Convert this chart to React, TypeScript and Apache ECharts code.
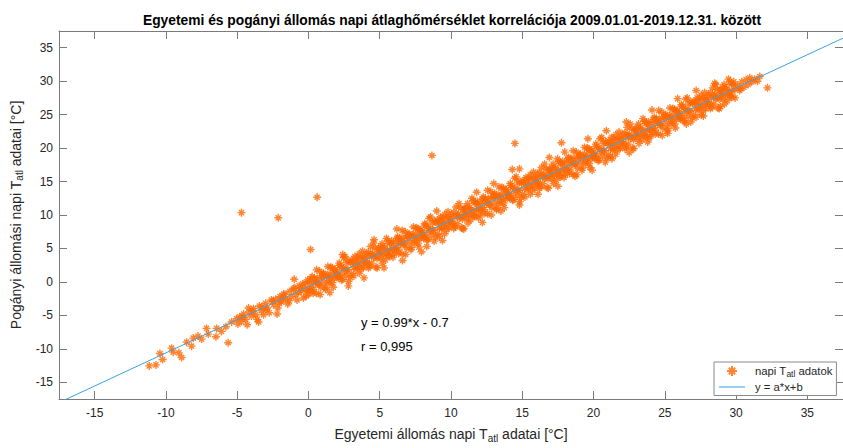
import React, { useEffect, useRef } from "react";
import * as echarts from "echarts";

const titleText = "Egyetemi és pogányi állomás napi átlaghőmérséklet korrelációja 2009.01.01-2019.12.31. között";
const xAxisMin = -17.5;
const xAxisMax = 37.5;
const yAxisMin = -17.5;
const yAxisMax = 37.5;
const fitX = [-17.5, 37.5];
const fitY = [-18.03, 36.43];
const fitText = "y = 0.99*x - 0.7";
const corrText = "r = 0,995";

// cold tail
const tailPoints: number[][] = [
  [-11.17, -12.55], [-10.7, -12.4], [-10.42, -10.7], [-10.23, -11.6], [-9.6, -9.9], [-9.49, -10.5],
  [-9.09, -10.6], [-8.9, -11.3], [-8.55, -9.0], [-8.2, -9.6], [-8.08, -8.4], [-7.75, -8.1], [-7.5, -8.55],
  [-7.15, -6.95], [-7.03, -7.8], [-6.49, -8.2], [-6.44, -6.95], [-6.1, -7.4], [-5.79, -6.7], [-5.63, -9.1],
  [-5.39, -6.0], [-5.04, -5.5],
];

// -5 .. 0
const lowPoints: number[][] = [
  [-4.95, -6.3], [-4.82, -5.2], [-4.7, -5.9], [-4.6, -5.3], [-4.55, -4.8], [-4.4, -5.6], [-4.3, -6.4], [-4.2, -3.9],
  [-4.15, -4.5], [-4.0, -5.1], [-3.9, -4.4], [-3.85, -4.0], [-3.7, -4.9], [-3.6, -5.6], [-3.5, -6.0], [-3.45, -3.6],
  [-3.3, -4.3], [-3.25, -3.7], [-3.15, -4.9], [-3.0, -3.2], [-2.95, -4.1], [-2.9, -3.9], [-2.75, -4.6], [-2.6, -2.7],
  [-2.5, -2.9], [-2.45, -3.4], [-2.3, -2.6], [-2.2, -4.8], [-2.15, -3.9], [-2.05, -3.2], [-2.0, -2.2], [-1.9, -3.0],
  [-1.85, -2.4], [-1.75, -1.8], [-1.65, -1.9], [-1.6, -2.6], [-1.45, -3.3], [-1.35, -2.8], [-1.3, -1.4], [-1.2, -2.2],
  [-1.05, -1.0], [-1.0, 0.4], [-0.95, -0.9], [-0.9, -1.9], [-0.8, -2.7], [-0.7, -1.6], [-0.65, -0.6], [-0.55, -0.9],
  [-0.5, -1.4], [-0.4, -0.3], [-0.35, -2.4], [-0.25, -1.0], [-0.2, -0.2], [-0.15, -2.1], [-0.1, -1.3], [-0.05, 0.3],
];

// dense band 0 .. 30, first pass
const corePoints: number[][] = [
  [0.03, -1.8], [0.11, -0.1], [0.18, -0.8], [0.26, 0.8], [0.33, -1.1], [0.41, 0.6], [0.49, -0.2], [0.56, -1.7], [0.64, 0.5], [0.72, -0.4], [0.79, 1.6], [0.87, -0.8], [0.95, 0.6],
  [1.05, 1.2], [1.12, -0.1], [1.2, -0.9], [1.27, 0.8], [1.36, 2.3], [1.44, -0.2], [1.51, 1.2], [1.58, 0.7], [1.67, 2.1], [1.74, -0.8], [1.81, 0.5], [1.89, 1.9], [1.97, 1.2],
  [2.02, 1.4], [2.09, 0.6], [2.16, 2.8], [2.24, 1.1], [2.31, 2.2], [2.39, 0.4], [2.47, 3.6], [2.54, 1.7], [2.62, 1.0], [2.69, 2.9], [2.77, 1.8], [2.84, 3.1], [2.93, 0.7],
  [3.03, 1.2], [3.11, 2.9], [3.18, 2.2], [3.26, 3.8], [3.33, 1.9], [3.41, 3.6], [3.49, 2.8], [3.56, 1.3], [3.64, 3.5], [3.72, 2.6], [3.79, 4.6], [3.87, 2.2], [3.95, 3.6],
  [4.05, 4.2], [4.12, 2.9], [4.2, 2.1], [4.27, 3.8], [4.36, 5.3], [4.44, 2.8], [4.51, 4.2], [4.58, 3.7], [4.67, 5.1], [4.74, 2.2], [4.81, 3.5], [4.89, 4.9], [4.97, 4.2],
  [5.02, 4.4], [5.09, 3.5], [5.16, 5.7], [5.24, 4.1], [5.31, 5.2], [5.39, 3.3], [5.47, 6.5], [5.54, 4.7], [5.62, 4.0], [5.69, 5.8], [5.77, 4.7], [5.84, 6.1], [5.93, 3.7],
  [6.03, 4.2], [6.11, 5.9], [6.18, 5.1], [6.26, 6.7], [6.33, 4.9], [6.41, 6.6], [6.49, 5.7], [6.56, 4.2], [6.64, 6.5], [6.72, 5.6], [6.79, 7.5], [6.87, 5.1], [6.95, 6.5],
  [7.05, 7.1], [7.12, 5.9], [7.2, 5.1], [7.27, 6.7], [7.36, 8.2], [7.44, 5.8], [7.51, 7.2], [7.58, 6.6], [7.67, 8.0], [7.74, 5.2], [7.81, 6.5], [7.89, 7.8], [7.97, 7.1],
  [8.02, 7.4], [8.09, 6.5], [8.16, 8.7], [8.24, 7.1], [8.31, 8.2], [8.39, 6.3], [8.47, 9.5], [8.54, 7.7], [8.62, 7.0], [8.69, 8.8], [8.77, 7.7], [8.84, 9.1], [8.93, 6.7],
  [9.03, 7.2], [9.11, 8.9], [9.18, 8.1], [9.26, 9.7], [9.33, 7.9], [9.41, 9.6], [9.49, 8.7], [9.56, 7.2], [9.64, 9.5], [9.72, 8.6], [9.79, 10.5], [9.87, 8.1], [9.95, 9.5],
  [10.05, 10.1], [10.12, 8.8], [10.2, 8.0], [10.27, 9.7], [10.36, 11.2], [10.44, 8.7], [10.51, 10.1], [10.58, 9.6], [10.67, 11.0], [10.74, 8.1], [10.81, 9.4], [10.89, 10.8], [10.97, 10.1],
  [11.02, 10.3], [11.09, 9.5], [11.16, 11.7], [11.24, 10.0], [11.31, 11.1], [11.39, 9.3], [11.47, 12.5], [11.54, 10.6], [11.62, 9.9], [11.69, 11.8], [11.77, 10.7], [11.84, 12.0], [11.93, 9.6],
  [12.03, 10.1], [12.11, 11.8], [12.18, 11.1], [12.26, 12.7], [12.33, 10.8], [12.41, 12.5], [12.49, 11.7], [12.56, 10.2], [12.64, 12.4], [12.72, 11.5], [12.79, 13.5], [12.87, 11.1], [12.95, 12.5],
  [13.05, 13.1], [13.12, 11.8], [13.2, 11.0], [13.27, 12.7], [13.36, 14.2], [13.44, 11.7], [13.51, 13.1], [13.58, 12.6], [13.67, 14.0], [13.74, 11.1], [13.81, 12.4], [13.89, 13.8], [13.97, 13.1],
  [14.02, 13.3], [14.09, 12.5], [14.16, 14.7], [14.24, 13.0], [14.31, 14.1], [14.39, 12.3], [14.47, 15.5], [14.54, 13.6], [14.62, 12.9], [14.69, 14.8], [14.77, 13.7], [14.84, 15.0], [14.93, 12.6],
  [15.03, 13.1], [15.11, 14.8], [15.18, 14.0], [15.26, 15.6], [15.33, 13.8], [15.41, 15.5], [15.49, 14.6], [15.56, 13.1], [15.64, 15.4], [15.72, 14.5], [15.79, 16.4], [15.87, 14.0], [15.95, 15.4],
  [16.05, 16.0], [16.12, 14.8], [16.2, 14.0], [16.27, 15.6], [16.36, 17.1], [16.44, 14.7], [16.51, 16.1], [16.58, 15.5], [16.67, 16.9], [16.74, 14.1], [16.81, 15.4], [16.89, 16.7], [16.97, 16.0],
  [17.02, 16.3], [17.09, 15.4], [17.16, 17.6], [17.24, 16.0], [17.31, 17.1], [17.39, 15.2], [17.47, 18.4], [17.54, 16.6], [17.62, 15.9], [17.69, 17.7], [17.77, 16.6], [17.84, 18.0], [17.93, 15.6],
  [18.03, 16.1], [18.11, 17.8], [18.18, 17.0], [18.26, 18.6], [18.33, 16.8], [18.41, 18.5], [18.49, 17.6], [18.56, 16.1], [18.64, 18.4], [18.72, 17.5], [18.79, 19.4], [18.87, 17.0], [18.95, 18.4],
  [19.05, 19.0], [19.12, 17.8], [19.2, 17.0], [19.27, 18.6], [19.36, 20.1], [19.44, 17.7], [19.51, 19.1], [19.58, 18.5], [19.67, 19.9], [19.74, 17.1], [19.81, 18.4], [19.89, 19.7], [19.97, 19.0],
  [20.02, 19.2], [20.09, 18.4], [20.16, 20.6], [20.24, 18.9], [20.31, 20.0], [20.39, 18.2], [20.47, 21.4], [20.54, 19.5], [20.62, 18.8], [20.69, 20.7], [20.77, 19.6], [20.84, 20.9], [20.93, 18.5],
  [21.03, 19.0], [21.11, 20.7], [21.18, 20.0], [21.26, 21.6], [21.33, 19.7], [21.41, 21.4], [21.49, 20.6], [21.56, 19.1], [21.64, 21.3], [21.72, 20.4], [21.79, 22.4], [21.87, 20.0], [21.95, 21.4],
  [22.05, 22.0], [22.12, 20.7], [22.2, 19.9], [22.27, 21.6], [22.36, 23.1], [22.44, 20.6], [22.51, 22.0], [22.58, 21.5], [22.67, 22.9], [22.74, 20.0], [22.81, 21.3], [22.89, 22.7], [22.97, 22.0],
  [23.02, 22.2], [23.09, 21.4], [23.16, 23.6], [23.24, 21.9], [23.31, 23.0], [23.39, 21.2], [23.47, 24.4], [23.54, 22.5], [23.62, 21.8], [23.69, 23.7], [23.77, 22.6], [23.84, 23.9], [23.93, 21.5],
  [24.03, 22.0], [24.11, 23.7], [24.18, 23.0], [24.26, 24.6], [24.33, 22.7], [24.41, 24.4], [24.49, 23.6], [24.56, 22.1], [24.64, 24.3], [24.72, 23.4], [24.79, 25.4], [24.87, 23.0], [24.95, 24.4],
  [25.05, 24.9], [25.12, 23.7], [25.2, 22.9], [25.27, 24.5], [25.36, 26.0], [25.44, 23.6], [25.51, 25.0], [25.58, 24.4], [25.67, 25.8], [25.74, 23.0], [25.81, 24.3], [25.89, 25.6], [25.97, 24.9],
  [26.02, 25.2], [26.09, 24.3], [26.16, 26.5], [26.24, 24.9], [26.31, 26.0], [26.39, 24.1], [26.47, 27.3], [26.54, 25.5], [26.62, 24.8], [26.69, 26.6], [26.77, 25.5], [26.84, 26.9], [26.93, 24.5],
  [27.03, 25.0], [27.11, 26.7], [27.18, 25.9], [27.26, 27.5], [27.33, 25.7], [27.41, 27.4], [27.49, 26.5], [27.56, 25.0], [27.64, 27.3], [27.72, 26.4], [27.79, 28.3], [27.87, 25.9], [27.95, 27.3],
  [28.05, 27.9], [28.12, 26.7], [28.2, 25.9], [28.27, 27.5], [28.36, 29.0], [28.44, 26.6], [28.51, 28.0], [28.58, 27.4], [28.67, 28.8], [28.74, 26.0], [28.81, 27.3], [28.89, 28.6], [28.97, 27.9],
  [29.02, 28.2], [29.09, 27.3], [29.16, 29.5], [29.24, 27.9], [29.31, 29.0], [29.39, 27.1], [29.47, 30.3], [29.54, 28.5], [29.62, 27.8], [29.69, 29.6], [29.77, 28.5], [29.84, 29.9], [29.93, 27.5],
];

// dense band 0 .. 30, second pass
const corePoints2: number[][] = [
  [0.07, -1.2], [0.2, 0.5], [0.32, -1.7], [0.45, 0.1], [0.57, 1.8], [0.7, -0.2], [0.82, -1.9], [0.94, 0.9],
  [1.06, 1.3], [1.19, -1.1], [1.31, 1.0], [1.44, 0.2], [1.56, 2.2], [1.69, -0.1], [1.81, 1.7], [1.94, 1.1],
  [2.07, 0.8], [2.2, 2.5], [2.32, 0.3], [2.45, 2.1], [2.57, 3.8], [2.7, 1.8], [2.82, 0.1], [2.94, 2.9],
  [3.06, 3.3], [3.19, 0.9], [3.31, 3.0], [3.44, 2.2], [3.56, 4.2], [3.69, 1.9], [3.81, 3.7], [3.94, 3.1],
  [4.07, 2.8], [4.2, 4.5], [4.32, 2.3], [4.45, 4.1], [4.57, 5.8], [4.7, 3.8], [4.82, 2.1], [4.94, 4.9],
  [5.06, 5.2], [5.19, 2.8], [5.31, 5.0], [5.44, 4.2], [5.56, 6.1], [5.69, 3.8], [5.81, 5.7], [5.94, 5.1],
  [6.07, 4.7], [6.2, 6.5], [6.32, 4.3], [6.45, 6.0], [6.57, 7.7], [6.7, 5.8], [6.82, 4.1], [6.94, 6.9],
  [7.06, 7.2], [7.19, 4.8], [7.31, 7.0], [7.44, 6.2], [7.56, 8.1], [7.69, 5.8], [7.81, 7.7], [7.94, 7.1],
  [8.07, 6.7], [8.2, 8.5], [8.32, 6.3], [8.45, 8.0], [8.57, 9.7], [8.7, 7.8], [8.82, 6.1], [8.94, 8.9],
  [9.06, 9.2], [9.19, 6.8], [9.31, 9.0], [9.44, 8.2], [9.56, 10.1], [9.69, 7.8], [9.81, 9.7], [9.94, 9.1],
  [10.07, 8.7], [10.2, 10.4], [10.32, 8.2], [10.45, 10.0], [10.57, 11.7], [10.7, 9.7], [10.82, 8.0], [10.94, 10.8],
  [11.06, 11.2], [11.19, 8.8], [11.31, 10.9], [11.44, 10.1], [11.56, 12.1], [11.69, 9.8], [11.81, 11.6], [11.94, 11.0],
  [12.07, 10.7], [12.2, 12.4], [12.32, 10.2], [12.45, 12.0], [12.57, 13.7], [12.7, 11.7], [12.82, 10.0], [12.94, 12.8],
  [13.06, 13.2], [13.19, 10.8], [13.31, 12.9], [13.44, 12.1], [13.56, 14.1], [13.69, 11.8], [13.81, 13.6], [13.94, 13.0],
  [14.07, 12.7], [14.2, 14.4], [14.32, 12.2], [14.45, 14.0], [14.57, 15.7], [14.7, 13.7], [14.82, 12.0], [14.94, 14.8],
  [15.06, 15.1], [15.19, 12.7], [15.31, 14.9], [15.44, 14.1], [15.56, 16.0], [15.69, 13.7], [15.81, 15.6], [15.94, 15.0],
  [16.07, 14.6], [16.2, 16.4], [16.32, 14.2], [16.45, 15.9], [16.57, 17.6], [16.7, 15.7], [16.82, 14.0], [16.94, 16.8],
  [17.06, 17.1], [17.19, 14.7], [17.31, 16.9], [17.44, 16.1], [17.56, 18.0], [17.69, 15.7], [17.81, 17.6], [17.94, 17.0],
  [18.07, 16.6], [18.2, 18.4], [18.32, 16.2], [18.45, 17.9], [18.57, 19.6], [18.7, 17.7], [18.82, 16.0], [18.94, 18.8],
  [19.06, 19.1], [19.19, 16.7], [19.31, 18.9], [19.44, 18.1], [19.56, 20.0], [19.69, 17.7], [19.81, 19.6], [19.94, 19.0],
  [20.07, 18.6], [20.2, 20.3], [20.32, 18.1], [20.45, 19.9], [20.57, 21.6], [20.7, 19.6], [20.82, 17.9], [20.94, 20.7],
  [21.06, 21.1], [21.19, 18.7], [21.31, 20.8], [21.44, 20.0], [21.56, 22.0], [21.69, 19.7], [21.81, 21.5], [21.94, 20.9],
  [22.07, 20.6], [22.2, 22.3], [22.32, 20.1], [22.45, 21.9], [22.57, 23.6], [22.7, 21.6], [22.82, 19.9], [22.94, 22.7],
  [23.06, 23.1], [23.19, 20.7], [23.31, 22.8], [23.44, 22.0], [23.56, 24.0], [23.69, 21.7], [23.81, 23.5], [23.94, 22.9],
  [24.07, 22.6], [24.2, 24.3], [24.32, 22.1], [24.45, 23.9], [24.57, 25.6], [24.7, 23.6], [24.82, 21.9], [24.94, 24.7],
  [25.06, 25.0], [25.19, 22.6], [25.31, 24.8], [25.44, 24.0], [25.56, 25.9], [25.69, 23.6], [25.81, 25.5], [25.94, 24.9],
  [26.07, 24.5], [26.2, 26.3], [26.32, 24.1], [26.45, 25.8], [26.57, 27.5], [26.7, 25.6], [26.82, 23.9], [26.94, 26.7],
  [27.06, 27.0], [27.19, 24.6], [27.31, 26.8], [27.44, 26.0], [27.56, 27.9], [27.69, 25.6], [27.81, 27.5], [27.94, 26.9],
  [28.07, 26.5], [28.2, 28.3], [28.32, 26.1], [28.45, 27.8], [28.57, 29.5], [28.7, 27.6], [28.82, 25.9], [28.94, 28.7],
  [29.06, 29.0], [29.19, 26.6], [29.31, 28.8], [29.44, 28.0], [29.56, 29.9], [29.69, 27.6], [29.81, 29.5], [29.94, 28.9],
];

// warm end 30 .. 32.5
const highPoints: number[][] = [
  [30.1, 29.4], [30.25, 28.6], [30.3, 28.9], [30.4, 29.9], [30.55, 29.1], [30.7, 30.2], [30.85, 29.5],
  [30.96, 30.5], [31.1, 29.9], [31.3, 30.3], [31.5, 30.0], [31.66, 30.7], [32.2, 29.0],
];

// wider scatter around the band
const spreadPoints: number[][] = [
  [1.5, -1.6], [2.8, -0.6], [3.9, 0.6], [5.3, 2.1], [6.6, 3.2], [7.93, 4.5], [8.3, 5.3], [9.4, 6.2],
  [10.9, 7.9], [12.2, 8.9], [13.5, 10.6], [14.8, 11.5], [16.1, 13.1], [17.5, 14.3], [18.7, 15.8],
  [19.9, 16.7], [21.3, 18.4], [22.5, 19.3], [23.8, 20.9], [25.2, 22.2], [26.5, 23.6], [27.7, 24.8],
  [28.9, 26.2], [2.4, 4.1], [4.6, 6.3], [6.2, 7.9], [9.0, 10.6], [11.8, 13.4], [13.0, 14.7], [14.3, 16.8],
  [14.8, 16.9], [16.9, 18.6], [17.98, 19.4], [19.6, 21.4], [20.9, 22.6], [22.3, 23.9], [24.1, 25.7],
  [25.9, 27.4], [27.2, 28.6], [28.5, 29.7],
];

// isolated outliers
const outlierPoints: number[][] = [
  [-4.7, 10.35], [-2.12, 9.58], [0.61, 12.65], [0.15, 4.85], [8.66, 18.9], [14.48, 20.7], [17.75, 20.8],
];

const FONT = "'Liberation Sans', Arial, Helvetica, sans-serif";
const ORANGE = "#FF6600";
const BLUE = "#3AA3E3";
const AXIS = "#7a7a7a";
const LABEL = "#262626";
const STAR = "path://M5,0L5,10M0,5L10,5M1.8,1.8L8.2,8.2M1.8,8.2L8.2,1.8";
const LINE_ICON = "path://M0,0L30,0L30,1.2L0,1.2Z";

export default function App() {
  const ref = useRef<HTMLDivElement>(null);
  useEffect(() => {
    if (!ref.current) return;
    const chart = echarts.init(ref.current, undefined, { renderer: "svg" });
    const scatterData = [
      ...tailPoints,
      ...lowPoints,
      ...corePoints,
      ...corePoints2,
      ...highPoints,
      ...spreadPoints,
      ...outlierPoints,
    ];
    const fitData = fitX.map((x, i) => [x, fitY[i]]);
    const axisCommon = {
      type: "value" as const,
      splitNumber: 10,
      axisLine: { show: true, onZero: false, lineStyle: { color: AXIS, width: 1 } },
      axisTick: { show: true, inside: true, length: 8, lineStyle: { color: AXIS } },
      splitLine: { show: false },
    };
    const sub = { fontSize: 10, padding: [8, 0, 0, 0], fontFamily: FONT, color: LABEL };
    chart.setOption({
      animation: false,
      backgroundColor: "#ffffff",
      title: {
        text: titleText,
        left: 447,
        top: 8,
        textAlign: "center",
        textStyle: { fontFamily: FONT, fontSize: 13.8, fontWeight: "bold", color: "#000" },
      },
      grid: { left: 59, right: 0, top: 31, bottom: 41, containLabel: false },
      xAxis: [
        {
          ...axisCommon,
          position: "bottom",
          min: xAxisMin,
          max: xAxisMax,
          axisLabel: {
            showMinLabel: false,
            showMaxLabel: false,
            color: LABEL,
            fontFamily: FONT,
            fontSize: 12,
            margin: 8,
          },
          name: "Egyetemi állomás napi T{sub|atl} adatai [°C]",
          nameLocation: "middle",
          nameGap: 26,
          nameTextStyle: { fontFamily: FONT, fontSize: 14, color: LABEL, rich: { sub } },
        },
        {
          ...axisCommon,
          position: "top",
          min: xAxisMin,
          max: xAxisMax,
          axisLabel: { show: false },
        },
      ],
      yAxis: [
        {
          ...axisCommon,
          position: "left",
          min: yAxisMin,
          max: yAxisMax,
          axisLabel: {
            showMinLabel: false,
            showMaxLabel: false,
            color: LABEL,
            fontFamily: FONT,
            fontSize: 12,
            margin: 6,
          },
          name: "Pogányi állomási napi T{sub|atl} adatai [°C]",
          nameLocation: "middle",
          nameGap: 25,
          nameTextStyle: { fontFamily: FONT, fontSize: 14, color: LABEL, rich: { sub } },
        },
        {
          ...axisCommon,
          position: "right",
          min: yAxisMin,
          max: yAxisMax,
          axisLabel: { show: false },
        },
      ],
      legend: {
        orient: "vertical",
        left: 714,
        top: 362,
        padding: [3, 4, 3, 5],
        itemGap: 3,
        itemWidth: 26,
        itemHeight: 10,
        backgroundColor: "#ffffff",
        borderColor: "#8a8a8a",
        borderWidth: 1,
        borderRadius: 0,
        data: [
          { name: "napi Tatl adatok" },
          { name: "y = a*x+b", icon: LINE_ICON, itemStyle: { color: BLUE, borderWidth: 0 } },
        ],
        formatter: (name: string) => (name === "napi Tatl adatok" ? "napi T{sub|atl} adatok" : name),
        textStyle: {
          fontFamily: FONT,
          fontSize: 11.3,
          color: LABEL,
          padding: [0, 0, 0, 5],
          rich: { sub: { fontSize: 8.5, padding: [6, 0, 0, 0], fontFamily: FONT, color: LABEL } },
        },
      },
      series: [
        {
          name: "napi Tatl adatok",
          type: "scatter",
          data: scatterData,
          symbol: STAR,
          symbolSize: 8,
          symbolKeepAspect: true,
          itemStyle: { color: "rgba(0,0,0,0)", borderColor: ORANGE, borderWidth: 1.4 },
          emphasis: { disabled: true },
          z: 2,
        },
        {
          name: "y = a*x+b",
          type: "line",
          data: fitData,
          symbol: "none",
          lineStyle: { color: BLUE, width: 1 },
          itemStyle: { color: BLUE },
          clip: true,
          z: 3,
        },
      ],
      graphic: [
        {
          type: "text",
          left: 361,
          top: 316,
          style: { text: fitText, fontFamily: FONT, fontSize: 13, fill: "#000" },
        },
        {
          type: "text",
          left: 361,
          top: 340,
          style: { text: corrText, fontFamily: FONT, fontSize: 13, fill: "#000" },
        },
      ],
    });
    return () => chart.dispose();
  }, []);
  return (
    <div
      ref={ref}
      style={{ position: "fixed", left: 0, top: 0, width: 843, height: 448, background: "#fff" }}
    />
  );
}
